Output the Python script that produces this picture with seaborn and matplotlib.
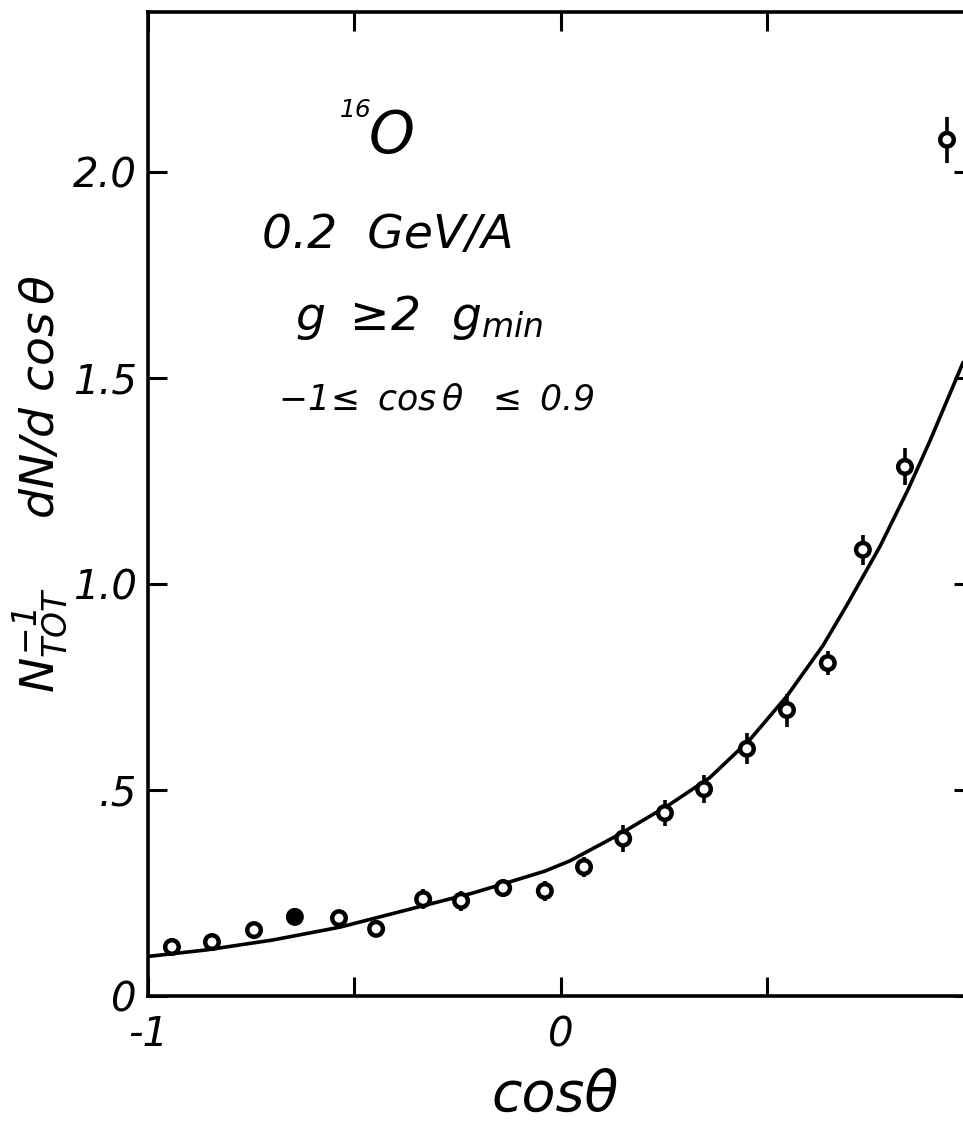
import matplotlib
matplotlib.use('Agg')
import pandas as pd
import matplotlib.pyplot as plt
import seaborn as sns

# data
cos_theta = [-0.942, -0.845, -0.743, -0.644, -0.537, -0.447, -0.333, -0.241, -0.139, -0.038,
             0.057, 0.152, 0.253, 0.348, 0.452, 0.549, 0.648, 0.733, 0.835, 0.937]
dn_dcos = [0.119, 0.131, 0.160, 0.192, 0.189, 0.163, 0.235, 0.231, 0.262, 0.255,
           0.313, 0.382, 0.444, 0.502, 0.600, 0.694, 0.808, 1.083, 1.284, 2.078]
err = [0.012, 0.012, 0.014, 0.0, 0.014, 0.015, 0.024, 0.025, 0.022, 0.024,
       0.025, 0.032, 0.032, 0.034, 0.038, 0.04, 0.03, 0.036, 0.045, 0.056]
filled = [False, False, False, True] + [False] * 16

# fitted curve
curve_x = [-1.0, -0.857, -0.697, -0.535, -0.372, -0.212, -0.139, -0.038, 0.023, 0.144,
           0.265, 0.362, 0.459, 0.549, 0.636, 0.695, 0.775, 0.842, 0.896, 0.961, 0.976]
curve_y = [0.096, 0.112, 0.136, 0.167, 0.209, 0.250, 0.272, 0.303, 0.328, 0.393,
           0.465, 0.530, 0.622, 0.728, 0.850, 0.950, 1.092, 1.228, 1.348, 1.502, 1.538]

x_ticks = [-1, -0.5, 0, 0.5, 1]
x_labels = ['-1', '', '0', '', '1']
y_ticks = [0, 0.5, 1.0, 1.5, 2.0]
y_labels = ['0', '.5', '1.0', '1.5', '2.0']

points = pd.DataFrame({'cos': cos_theta, 'val': dn_dcos, 'err': err, 'filled': filled})
curve = pd.DataFrame({'cos': curve_x, 'val': curve_y})

sns.set_style('ticks')
plt.rcParams['font.family'] = ['DejaVu Sans']
plt.rcParams['font.style'] = 'italic'
plt.rcParams['text.color'] = 'black'
plt.rcParams['mathtext.fontset'] = 'custom'
plt.rcParams['mathtext.rm'] = 'DejaVu Sans:italic'
plt.rcParams['mathtext.it'] = 'DejaVu Sans:italic'
plt.rcParams['mathtext.sf'] = 'DejaVu Sans:italic'

W, H = 963, 1132
fig = plt.figure(figsize=(W / 100, H / 100), dpi=100)
# right edge of the frame is cut off in the scan
ax = fig.add_axes([148 / W, 1 - 996 / H, 825 / W, 984 / H])

sns.lineplot(data=curve, x='cos', y='val', sort=False, color='black', lw=2.6,
             solid_joinstyle='round', ax=ax)
ax.errorbar(points['cos'], points['val'], yerr=points['err'], fmt='none',
            ecolor='black', elinewidth=2.6, capsize=0, zorder=3)
sns.scatterplot(data=points, x='cos', y='val', hue='filled',
                palette={False: 'white', True: 'black'}, edgecolor='black',
                linewidth=3.2, s=95, legend=False, zorder=4, ax=ax)

ax.set_xlim(-1, 1)
ax.set_ylim(0, 2.388)
ax.set_xticks(x_ticks)
ax.set_xticklabels(x_labels)
ax.set_yticks(y_ticks)
ax.set_yticklabels(y_labels)
ax.set_xlabel('')
ax.set_ylabel('')
ax.tick_params(direction='in', length=14, width=2.2, top=True, right=True,
               labelsize=29, colors='black')
ax.tick_params(axis='x', pad=14)
ax.tick_params(axis='y', pad=8)
for sp in ax.spines.values():
    sp.set_linewidth(2.6)
    sp.set_color('black')

# axis titles
fig.text(555 / W, 1 - 1095 / H, 'cosθ', fontsize=40, ha='center', va='center')
fig.text(40 / W, 1 - 484 / H, r'$N_{TOT}^{-1}\quad\;\; dN/d\ \cos\theta$',
         fontsize=34, rotation=90, ha='center', va='center')

# annotations
fig.text(392 / W, 1 - 136 / H, 'O', fontsize=42, ha='center', va='center')
fig.text(356 / W, 1 - 110 / H, '16', fontsize=18, ha='center', va='center')
fig.text(262 / W, 1 - 235 / H, '0.2  GeV/A', fontsize=34, ha='left', va='center')
fig.text(295 / W, 1 - 318 / H, r'$g\ \geq\!2\ \ g_{min}$', fontsize=34, ha='left', va='center')
fig.text(278 / W, 1 - 399 / H, r'$-1\!\leq\ \cos\theta\ \ \leq\ 0.9$', fontsize=25,
         ha='left', va='center')

fig.savefig('out.png', dpi=100)
